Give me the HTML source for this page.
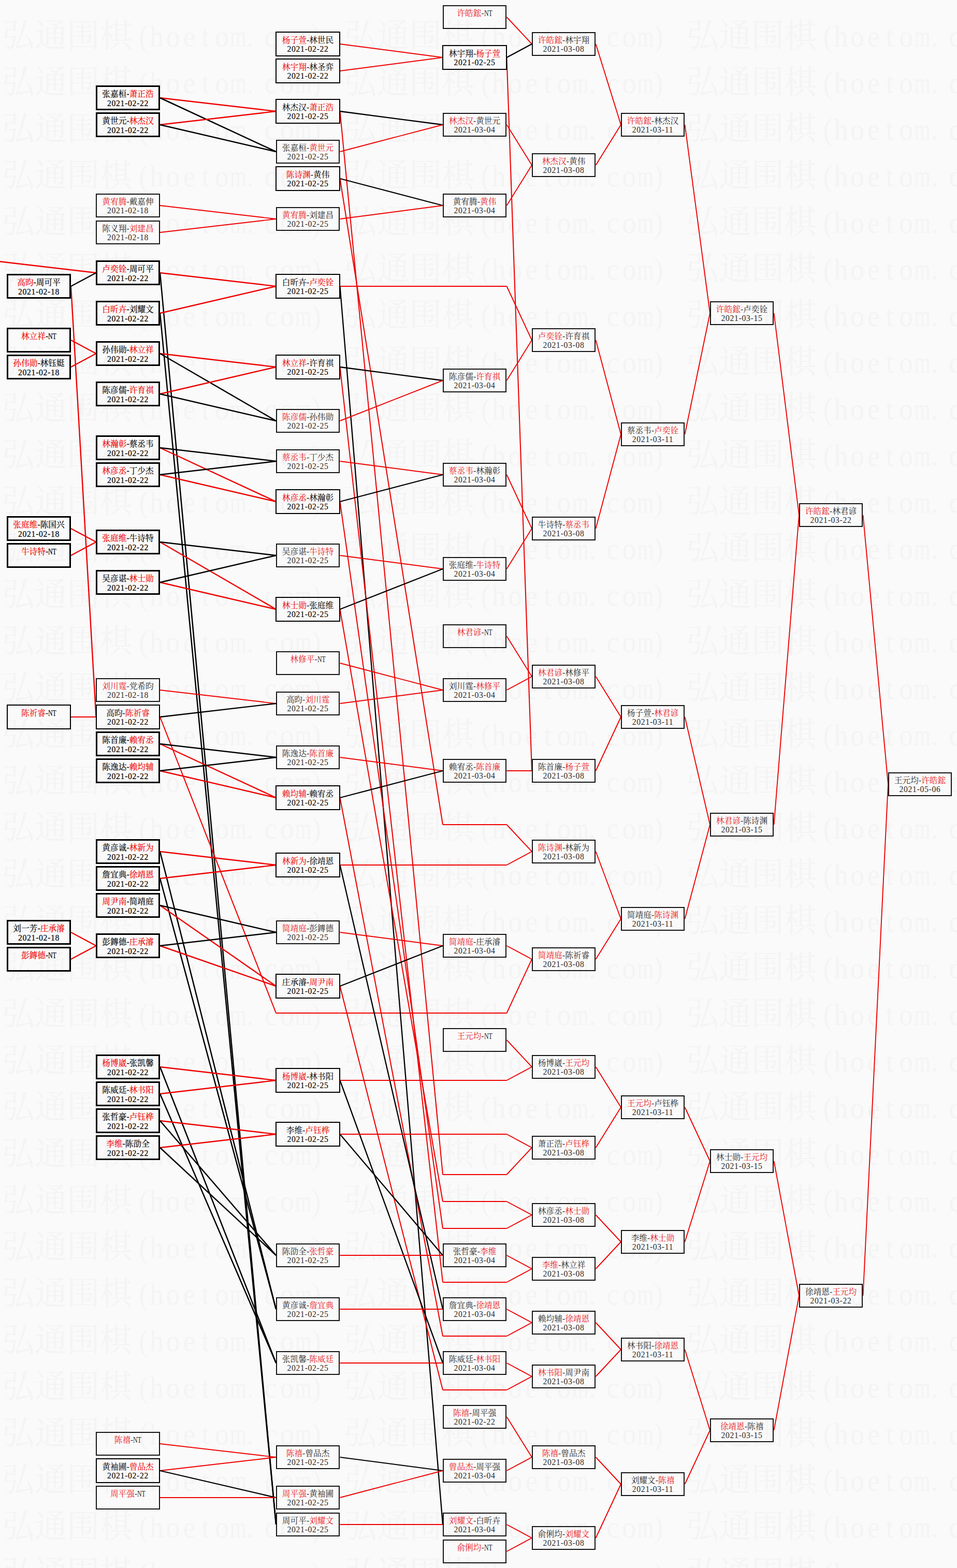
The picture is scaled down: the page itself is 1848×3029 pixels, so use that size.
<!DOCTYPE html>
<html lang="zh-CN"><head><meta charset="utf-8"><title>bracket</title>
<style>
html,body{margin:0;padding:0;overflow:hidden}
body{width:1848px;height:3029px;background:#fafafa;position:relative;overflow:hidden;font-family:"Liberation Serif","Noto Serif CJK SC",serif}
#cv{position:absolute;left:0;top:0}
.b{position:absolute;box-sizing:border-box;text-align:center;font-size:15.7px;line-height:18px;white-space:nowrap;color:#2b2b2b;border:2px solid #151515}
.b p{margin:0;position:absolute;left:0;right:0}
.b .n{top:5.7px}
.b .d{top:22.8px;letter-spacing:.68px}
.b b{font-weight:normal;color:#e8181c}
.b i{font-style:normal;display:inline-block;transform:scaleX(.76);transform-origin:0 50%;margin-right:-5px}
.c2{border:2.6px solid #000;color:#000;-webkit-text-stroke:.1px #000}
.c3{border:3.1px solid #000;color:#000;-webkit-text-stroke:.2px #000}
.c2 .n,.c3 .n{top:5.2px}
.c2 .d,.c3 .d{top:22.8px}
.c2 b{color:#f00000;-webkit-text-stroke:.1px #f00000}
.c3 b{color:#f00000;-webkit-text-stroke:.2px #f00000}
</style></head><body>

<svg id="cv" width="1848" height="3029" viewBox="0 0 1848 3029">
<defs>
<g id="wmp">
<text font-family="'Liberation Serif', 'Noto Serif CJK SC', serif" font-size="62.9" x="0 62.9 125.8 188.7" y="0">弘通围棋</text>
<text font-family="Liberation Serif, serif" font-size="60" text-anchor="middle" transform="translate(273.325,0) scale(0.9,1)">(</text>
<text font-family="Liberation Serif, serif" font-size="60" text-anchor="middle" transform="translate(298.775,0) scale(0.9,1)">h</text>
<text font-family="Liberation Serif, serif" font-size="60" text-anchor="middle" transform="translate(330.225,0) scale(0.9,1)">o</text>
<text font-family="Liberation Serif, serif" font-size="60" text-anchor="middle" transform="translate(361.675,0) scale(0.9,1)">e</text>
<text font-family="Liberation Serif, serif" font-size="60" text-anchor="middle" transform="translate(393.125,0) scale(0.9,1)">t</text>
<text font-family="Liberation Serif, serif" font-size="60" text-anchor="middle" transform="translate(424.575,0) scale(0.9,1)">o</text>
<text font-family="Liberation Serif, serif" font-size="60" text-anchor="middle" transform="translate(456.025,0) scale(0.68,1)">m</text>
<text font-family="Liberation Serif, serif" font-size="60" text-anchor="middle" transform="translate(479.475,0) scale(0.9,1)">.</text>
<text font-family="Liberation Serif, serif" font-size="60" text-anchor="middle" transform="translate(518.925,0) scale(0.9,1)">c</text>
<text font-family="Liberation Serif, serif" font-size="60" text-anchor="middle" transform="translate(550.375,0) scale(0.9,1)">o</text>
<text font-family="Liberation Serif, serif" font-size="60" text-anchor="middle" transform="translate(581.825,0) scale(0.68,1)">m</text>
<text font-family="Liberation Serif, serif" font-size="60" text-anchor="middle" transform="translate(607.275,0) scale(0.9,1)">)</text>
</g>
<g id="wmrow"><use href="#wmp" x="3.8"/><use href="#wmp" x="664.5"/><use href="#wmp" x="1325.2"/></g>
</defs>
<g fill="#f4f4f4">
<use href="#wmrow" y="89.7"/>
<use href="#wmrow" y="179.7"/>
<use href="#wmrow" y="269.7"/>
<use href="#wmrow" y="359.7"/>
<use href="#wmrow" y="449.7"/>
<use href="#wmrow" y="539.7"/>
<use href="#wmrow" y="629.7"/>
<use href="#wmrow" y="719.7"/>
<use href="#wmrow" y="809.7"/>
<use href="#wmrow" y="899.7"/>
<use href="#wmrow" y="989.7"/>
<use href="#wmrow" y="1079.7"/>
<use href="#wmrow" y="1169.7"/>
<use href="#wmrow" y="1259.7"/>
<use href="#wmrow" y="1349.7"/>
<use href="#wmrow" y="1439.7"/>
<use href="#wmrow" y="1529.7"/>
<use href="#wmrow" y="1619.7"/>
<use href="#wmrow" y="1709.7"/>
<use href="#wmrow" y="1799.7"/>
<use href="#wmrow" y="1889.7"/>
<use href="#wmrow" y="1979.7"/>
<use href="#wmrow" y="2069.7"/>
<use href="#wmrow" y="2159.7"/>
<use href="#wmrow" y="2249.7"/>
<use href="#wmrow" y="2339.7"/>
<use href="#wmrow" y="2429.7"/>
<use href="#wmrow" y="2519.7"/>
<use href="#wmrow" y="2609.7"/>
<use href="#wmrow" y="2699.7"/>
<use href="#wmrow" y="2789.7"/>
<use href="#wmrow" y="2879.7"/>
<use href="#wmrow" y="2969.7"/>
<use href="#wmrow" y="3059.7"/>
</g>
<g fill="none">
<line x1="-12" y1="503.9" x2="185.5" y2="527" stroke="#f00000" stroke-width="2.5"/>
<line x1="137" y1="553" x2="185.5" y2="527" stroke="#000" stroke-width="2.5"/>
<line x1="137" y1="553" x2="185.5" y2="1385" stroke="#f00000" stroke-width="2.4"/>
<line x1="137" y1="657" x2="185.5" y2="683" stroke="#f00000" stroke-width="2.4"/>
<line x1="137" y1="709" x2="185.5" y2="683" stroke="#f00000" stroke-width="2.4"/>
<line x1="137" y1="1021" x2="185.5" y2="1047" stroke="#f00000" stroke-width="2.4"/>
<line x1="137" y1="1073" x2="185.5" y2="1047" stroke="#f00000" stroke-width="2.4"/>
<line x1="137" y1="1385" x2="185.5" y2="1385" stroke="#f00000" stroke-width="2.05"/>
<line x1="137" y1="1801" x2="185.5" y2="1827" stroke="#f00000" stroke-width="2.4"/>
<line x1="137" y1="1853" x2="185.5" y2="1827" stroke="#f00000" stroke-width="2.4"/>
<line x1="309" y1="189" x2="533" y2="215" stroke="#f00000" stroke-width="2.4"/>
<line x1="309" y1="189" x2="533" y2="293" stroke="#000" stroke-width="2.5"/>
<line x1="309" y1="241" x2="533" y2="215" stroke="#f00000" stroke-width="2.4"/>
<line x1="309" y1="241" x2="533" y2="293" stroke="#000" stroke-width="2.5"/>
<line x1="309" y1="397" x2="533" y2="423" stroke="#f00000" stroke-width="1.9"/>
<line x1="309" y1="449" x2="533" y2="423" stroke="#f00000" stroke-width="1.9"/>
<line x1="309" y1="527" x2="533" y2="553" stroke="#f00000" stroke-width="2.4"/>
<line x1="309" y1="527" x2="533" y2="2945" stroke="#000" stroke-width="2.5"/>
<line x1="309" y1="605" x2="533" y2="553" stroke="#f00000" stroke-width="2.4"/>
<line x1="309" y1="605" x2="533" y2="2945" stroke="#000" stroke-width="2.5"/>
<line x1="309" y1="683" x2="533" y2="709" stroke="#f00000" stroke-width="2.4"/>
<line x1="309" y1="683" x2="533" y2="813" stroke="#000" stroke-width="2.5"/>
<line x1="309" y1="761" x2="533" y2="709" stroke="#f00000" stroke-width="2.4"/>
<line x1="309" y1="761" x2="533" y2="813" stroke="#000" stroke-width="2.5"/>
<line x1="309" y1="865" x2="533" y2="969" stroke="#f00000" stroke-width="2.4"/>
<line x1="309" y1="865" x2="533" y2="891" stroke="#000" stroke-width="2.5"/>
<line x1="309" y1="917" x2="533" y2="969" stroke="#f00000" stroke-width="2.4"/>
<line x1="309" y1="917" x2="533" y2="891" stroke="#000" stroke-width="2.5"/>
<line x1="309" y1="1047" x2="533" y2="1177" stroke="#f00000" stroke-width="2.4"/>
<line x1="309" y1="1047" x2="533" y2="1073" stroke="#000" stroke-width="2.5"/>
<line x1="309" y1="1125" x2="533" y2="1177" stroke="#f00000" stroke-width="2.4"/>
<line x1="309" y1="1125" x2="533" y2="1073" stroke="#000" stroke-width="2.5"/>
<line x1="309" y1="1333" x2="533" y2="1359" stroke="#f00000" stroke-width="1.9"/>
<line x1="309" y1="1385" x2="533" y2="1359" stroke="#000" stroke-width="2.3"/>
<line x1="309" y1="1385" x2="533" y2="1957" stroke="#f00000" stroke-width="2.05"/>
<line x1="533" y1="1957" x2="656.5" y2="1957" stroke="#f00000" stroke-width="1.9"/>
<line x1="656.5" y1="1957" x2="855" y2="1957" stroke="#f00000" stroke-width="1.9"/>
<line x1="855" y1="1957" x2="978.5" y2="1957" stroke="#f00000" stroke-width="1.9"/>
<line x1="978.5" y1="1957" x2="1027" y2="1853" stroke="#f00000" stroke-width="1.9"/>
<line x1="309" y1="1437" x2="533" y2="1541" stroke="#f00000" stroke-width="2.4"/>
<line x1="309" y1="1437" x2="533" y2="1463" stroke="#000" stroke-width="2.5"/>
<line x1="309" y1="1489" x2="533" y2="1541" stroke="#f00000" stroke-width="2.4"/>
<line x1="309" y1="1489" x2="533" y2="1463" stroke="#000" stroke-width="2.5"/>
<line x1="309" y1="1645" x2="533" y2="1671" stroke="#f00000" stroke-width="2.4"/>
<line x1="309" y1="1645" x2="533" y2="2529" stroke="#000" stroke-width="2.5"/>
<line x1="309" y1="1697" x2="533" y2="1671" stroke="#f00000" stroke-width="2.4"/>
<line x1="309" y1="1697" x2="533" y2="2529" stroke="#000" stroke-width="2.5"/>
<line x1="309" y1="1749" x2="533" y2="1905" stroke="#f00000" stroke-width="2.4"/>
<line x1="309" y1="1749" x2="533" y2="1801" stroke="#000" stroke-width="2.5"/>
<line x1="309" y1="1827" x2="533" y2="1905" stroke="#f00000" stroke-width="2.4"/>
<line x1="309" y1="1827" x2="533" y2="1801" stroke="#000" stroke-width="2.5"/>
<line x1="309" y1="2061" x2="533" y2="2087" stroke="#f00000" stroke-width="2.4"/>
<line x1="309" y1="2061" x2="533" y2="2633" stroke="#000" stroke-width="2.5"/>
<line x1="309" y1="2113" x2="533" y2="2087" stroke="#f00000" stroke-width="2.4"/>
<line x1="309" y1="2113" x2="533" y2="2633" stroke="#000" stroke-width="2.5"/>
<line x1="309" y1="2165" x2="533" y2="2191" stroke="#f00000" stroke-width="2.4"/>
<line x1="309" y1="2165" x2="533" y2="2425" stroke="#000" stroke-width="2.5"/>
<line x1="309" y1="2217" x2="533" y2="2191" stroke="#f00000" stroke-width="2.4"/>
<line x1="309" y1="2217" x2="533" y2="2425" stroke="#000" stroke-width="2.5"/>
<line x1="309" y1="2789" x2="533" y2="2815" stroke="#f00000" stroke-width="1.9"/>
<line x1="309" y1="2841" x2="533" y2="2815" stroke="#f00000" stroke-width="2.05"/>
<line x1="309" y1="2841" x2="533" y2="2893" stroke="#000" stroke-width="2.3"/>
<line x1="309" y1="2893" x2="533" y2="2893" stroke="#f00000" stroke-width="1.9"/>
<line x1="656.5" y1="85" x2="855" y2="111" stroke="#f00000" stroke-width="2.05"/>
<line x1="656.5" y1="137" x2="855" y2="111" stroke="#f00000" stroke-width="2.05"/>
<line x1="656.5" y1="215" x2="855" y2="241" stroke="#000" stroke-width="2.3"/>
<line x1="656.5" y1="215" x2="855" y2="2269" stroke="#f00000" stroke-width="2.05"/>
<line x1="855" y1="2269" x2="978.5" y2="2269" stroke="#f00000" stroke-width="1.9"/>
<line x1="978.5" y1="2269" x2="1027" y2="2217" stroke="#f00000" stroke-width="1.9"/>
<line x1="656.5" y1="293" x2="855" y2="241" stroke="#f00000" stroke-width="1.9"/>
<line x1="656.5" y1="345" x2="855" y2="397" stroke="#000" stroke-width="2.3"/>
<line x1="656.5" y1="345" x2="855" y2="1593" stroke="#f00000" stroke-width="2.05"/>
<line x1="855" y1="1593" x2="978.5" y2="1593" stroke="#f00000" stroke-width="1.9"/>
<line x1="978.5" y1="1593" x2="1027" y2="1645" stroke="#f00000" stroke-width="1.9"/>
<line x1="656.5" y1="423" x2="855" y2="397" stroke="#f00000" stroke-width="1.9"/>
<line x1="656.5" y1="553" x2="855" y2="2945" stroke="#000" stroke-width="2.3"/>
<line x1="656.5" y1="553" x2="855" y2="553" stroke="#f00000" stroke-width="2.05"/>
<line x1="855" y1="553" x2="978.5" y2="553" stroke="#f00000" stroke-width="1.9"/>
<line x1="978.5" y1="553" x2="1027" y2="657" stroke="#f00000" stroke-width="1.9"/>
<line x1="656.5" y1="709" x2="855" y2="735" stroke="#000" stroke-width="2.3"/>
<line x1="656.5" y1="709" x2="855" y2="2477" stroke="#f00000" stroke-width="2.05"/>
<line x1="855" y1="2477" x2="978.5" y2="2477" stroke="#f00000" stroke-width="1.9"/>
<line x1="978.5" y1="2477" x2="1027" y2="2451" stroke="#f00000" stroke-width="1.9"/>
<line x1="656.5" y1="813" x2="855" y2="735" stroke="#f00000" stroke-width="1.9"/>
<line x1="656.5" y1="891" x2="855" y2="917" stroke="#f00000" stroke-width="1.9"/>
<line x1="656.5" y1="969" x2="855" y2="917" stroke="#000" stroke-width="2.3"/>
<line x1="656.5" y1="969" x2="855" y2="2373" stroke="#f00000" stroke-width="2.05"/>
<line x1="855" y1="2373" x2="978.5" y2="2373" stroke="#f00000" stroke-width="1.9"/>
<line x1="978.5" y1="2373" x2="1027" y2="2347" stroke="#f00000" stroke-width="1.9"/>
<line x1="656.5" y1="1073" x2="855" y2="1099" stroke="#f00000" stroke-width="1.9"/>
<line x1="656.5" y1="1177" x2="855" y2="1099" stroke="#000" stroke-width="2.3"/>
<line x1="656.5" y1="1177" x2="855" y2="2321" stroke="#f00000" stroke-width="2.05"/>
<line x1="855" y1="2321" x2="978.5" y2="2321" stroke="#f00000" stroke-width="1.9"/>
<line x1="978.5" y1="2321" x2="1027" y2="2347" stroke="#f00000" stroke-width="1.9"/>
<line x1="656.5" y1="1281" x2="855" y2="1333" stroke="#f00000" stroke-width="1.9"/>
<line x1="656.5" y1="1359" x2="855" y2="1333" stroke="#f00000" stroke-width="1.9"/>
<line x1="656.5" y1="1463" x2="855" y2="1489" stroke="#f00000" stroke-width="1.9"/>
<line x1="656.5" y1="1541" x2="855" y2="1489" stroke="#000" stroke-width="2.3"/>
<line x1="656.5" y1="1541" x2="855" y2="2581" stroke="#f00000" stroke-width="2.05"/>
<line x1="855" y1="2581" x2="978.5" y2="2581" stroke="#f00000" stroke-width="1.9"/>
<line x1="978.5" y1="2581" x2="1027" y2="2555" stroke="#f00000" stroke-width="1.9"/>
<line x1="656.5" y1="1671" x2="855" y2="2529" stroke="#000" stroke-width="2.3"/>
<line x1="656.5" y1="1671" x2="855" y2="1671" stroke="#f00000" stroke-width="2.05"/>
<line x1="855" y1="1671" x2="978.5" y2="1671" stroke="#f00000" stroke-width="1.9"/>
<line x1="978.5" y1="1671" x2="1027" y2="1645" stroke="#f00000" stroke-width="1.9"/>
<line x1="656.5" y1="1801" x2="855" y2="1827" stroke="#f00000" stroke-width="1.9"/>
<line x1="656.5" y1="1905" x2="855" y2="1827" stroke="#000" stroke-width="2.3"/>
<line x1="656.5" y1="1905" x2="855" y2="2685" stroke="#f00000" stroke-width="2.05"/>
<line x1="855" y1="2685" x2="978.5" y2="2685" stroke="#f00000" stroke-width="1.9"/>
<line x1="978.5" y1="2685" x2="1027" y2="2659" stroke="#f00000" stroke-width="1.9"/>
<line x1="656.5" y1="2087" x2="855" y2="2633" stroke="#000" stroke-width="2.3"/>
<line x1="656.5" y1="2087" x2="855" y2="2087" stroke="#f00000" stroke-width="2.05"/>
<line x1="855" y1="2087" x2="978.5" y2="2087" stroke="#f00000" stroke-width="1.9"/>
<line x1="978.5" y1="2087" x2="1027" y2="2061" stroke="#f00000" stroke-width="1.9"/>
<line x1="656.5" y1="2191" x2="855" y2="2425" stroke="#000" stroke-width="2.3"/>
<line x1="656.5" y1="2191" x2="855" y2="2191" stroke="#f00000" stroke-width="2.05"/>
<line x1="855" y1="2191" x2="978.5" y2="2191" stroke="#f00000" stroke-width="1.9"/>
<line x1="978.5" y1="2191" x2="1027" y2="2217" stroke="#f00000" stroke-width="1.9"/>
<line x1="656.5" y1="2425" x2="855" y2="2425" stroke="#f00000" stroke-width="1.9"/>
<line x1="656.5" y1="2529" x2="855" y2="2529" stroke="#f00000" stroke-width="1.9"/>
<line x1="656.5" y1="2633" x2="855" y2="2633" stroke="#f00000" stroke-width="1.9"/>
<line x1="656.5" y1="2815" x2="855" y2="2841" stroke="#000" stroke-width="1.9"/>
<line x1="656.5" y1="2893" x2="855" y2="2841" stroke="#f00000" stroke-width="1.9"/>
<line x1="656.5" y1="2945" x2="855" y2="2945" stroke="#f00000" stroke-width="1.9"/>
<line x1="978.5" y1="33" x2="1027" y2="85" stroke="#f00000" stroke-width="1.9"/>
<line x1="978.5" y1="111" x2="1027" y2="85" stroke="#000" stroke-width="2.3"/>
<line x1="978.5" y1="111" x2="1027" y2="1489" stroke="#f00000" stroke-width="2.05"/>
<line x1="978.5" y1="241" x2="1027" y2="319" stroke="#f00000" stroke-width="1.9"/>
<line x1="978.5" y1="397" x2="1027" y2="319" stroke="#f00000" stroke-width="1.9"/>
<line x1="978.5" y1="735" x2="1027" y2="657" stroke="#f00000" stroke-width="1.9"/>
<line x1="978.5" y1="917" x2="1027" y2="1021" stroke="#f00000" stroke-width="1.9"/>
<line x1="978.5" y1="1099" x2="1027" y2="1021" stroke="#f00000" stroke-width="1.9"/>
<line x1="978.5" y1="1229" x2="1027" y2="1307" stroke="#f00000" stroke-width="1.9"/>
<line x1="978.5" y1="1333" x2="1027" y2="1307" stroke="#f00000" stroke-width="1.9"/>
<line x1="978.5" y1="1489" x2="1027" y2="1489" stroke="#f00000" stroke-width="1.9"/>
<line x1="978.5" y1="1827" x2="1027" y2="1853" stroke="#f00000" stroke-width="1.9"/>
<line x1="978.5" y1="2009" x2="1027" y2="2061" stroke="#f00000" stroke-width="1.9"/>
<line x1="978.5" y1="2425" x2="1027" y2="2451" stroke="#f00000" stroke-width="1.9"/>
<line x1="978.5" y1="2529" x2="1027" y2="2555" stroke="#f00000" stroke-width="1.9"/>
<line x1="978.5" y1="2633" x2="1027" y2="2659" stroke="#f00000" stroke-width="1.9"/>
<line x1="978.5" y1="2737" x2="1027" y2="2815" stroke="#f00000" stroke-width="1.9"/>
<line x1="978.5" y1="2841" x2="1027" y2="2815" stroke="#f00000" stroke-width="1.9"/>
<line x1="978.5" y1="2945" x2="1027" y2="2971" stroke="#f00000" stroke-width="1.9"/>
<line x1="978.5" y1="2997" x2="1027" y2="2971" stroke="#f00000" stroke-width="1.9"/>
<line x1="1150.5" y1="85" x2="1199" y2="241" stroke="#f00000" stroke-width="1.9"/>
<line x1="1150.5" y1="319" x2="1199" y2="241" stroke="#f00000" stroke-width="1.9"/>
<line x1="1150.5" y1="657" x2="1199" y2="839" stroke="#f00000" stroke-width="1.9"/>
<line x1="1150.5" y1="1021" x2="1199" y2="839" stroke="#f00000" stroke-width="1.9"/>
<line x1="1150.5" y1="1307" x2="1199" y2="1385" stroke="#f00000" stroke-width="1.9"/>
<line x1="1150.5" y1="1489" x2="1199" y2="1385" stroke="#f00000" stroke-width="1.9"/>
<line x1="1150.5" y1="1645" x2="1199" y2="1775" stroke="#f00000" stroke-width="1.9"/>
<line x1="1150.5" y1="1853" x2="1199" y2="1775" stroke="#f00000" stroke-width="1.9"/>
<line x1="1150.5" y1="2061" x2="1199" y2="2139" stroke="#f00000" stroke-width="1.9"/>
<line x1="1150.5" y1="2217" x2="1199" y2="2139" stroke="#f00000" stroke-width="1.9"/>
<line x1="1150.5" y1="2347" x2="1199" y2="2399" stroke="#f00000" stroke-width="1.9"/>
<line x1="1150.5" y1="2451" x2="1199" y2="2399" stroke="#f00000" stroke-width="1.9"/>
<line x1="1150.5" y1="2555" x2="1199" y2="2607" stroke="#f00000" stroke-width="1.9"/>
<line x1="1150.5" y1="2659" x2="1199" y2="2607" stroke="#f00000" stroke-width="1.9"/>
<line x1="1150.5" y1="2815" x2="1199" y2="2867" stroke="#f00000" stroke-width="1.9"/>
<line x1="1150.5" y1="2971" x2="1199" y2="2867" stroke="#f00000" stroke-width="1.9"/>
<line x1="1322.5" y1="241" x2="1371" y2="605" stroke="#f00000" stroke-width="1.9"/>
<line x1="1322.5" y1="839" x2="1371" y2="605" stroke="#f00000" stroke-width="1.9"/>
<line x1="1322.5" y1="1385" x2="1371" y2="1593" stroke="#f00000" stroke-width="1.9"/>
<line x1="1322.5" y1="1775" x2="1371" y2="1593" stroke="#f00000" stroke-width="1.9"/>
<line x1="1322.5" y1="2139" x2="1371" y2="2243" stroke="#f00000" stroke-width="1.9"/>
<line x1="1322.5" y1="2399" x2="1371" y2="2243" stroke="#f00000" stroke-width="1.9"/>
<line x1="1322.5" y1="2607" x2="1371" y2="2763" stroke="#f00000" stroke-width="1.9"/>
<line x1="1322.5" y1="2867" x2="1371" y2="2763" stroke="#f00000" stroke-width="1.9"/>
<line x1="1494.5" y1="605" x2="1543" y2="995" stroke="#f00000" stroke-width="1.9"/>
<line x1="1494.5" y1="1593" x2="1543" y2="995" stroke="#f00000" stroke-width="1.9"/>
<line x1="1494.5" y1="2243" x2="1543" y2="2503" stroke="#f00000" stroke-width="1.9"/>
<line x1="1494.5" y1="2763" x2="1543" y2="2503" stroke="#f00000" stroke-width="1.9"/>
<line x1="1666.5" y1="995" x2="1715" y2="1515" stroke="#f00000" stroke-width="1.9"/>
<line x1="1666.5" y1="2503" x2="1715" y2="1515" stroke="#f00000" stroke-width="1.9"/>
</g></svg>
<div class="b c3" style="left:12.65px;top:529.15px;width:124.8px;height:47.7px"><p class="n"><b>高昀</b>-周可平</p><p class="d">2021-02-18</p></div>
<div class="b c3" style="left:12.65px;top:633.15px;width:124.8px;height:47.7px"><p class="n"><b>林立祥</b>-<i>NT</i></p><p class="d"></p></div>
<div class="b c3" style="left:12.65px;top:685.15px;width:124.8px;height:47.7px"><p class="n"><b>孙伟勋</b>-林钰娗</p><p class="d">2021-02-18</p></div>
<div class="b c3" style="left:12.65px;top:997.15px;width:124.8px;height:47.7px"><p class="n"><b>张庭维</b>-陈国兴</p><p class="d">2021-02-18</p></div>
<div class="b c3" style="left:12.65px;top:1049.15px;width:124.8px;height:47.7px"><p class="n"><b>牛诗特</b>-<i>NT</i></p><p class="d"></p></div>
<div class="b c2" style="left:12.9px;top:1361.4px;width:124.3px;height:47.2px"><p class="n"><b>陈祈睿</b>-<i>NT</i></p><p class="d"></p></div>
<div class="b c3" style="left:12.65px;top:1777.15px;width:124.8px;height:47.7px"><p class="n">刘一芳-<b>庄承濬</b></p><p class="d">2021-02-18</p></div>
<div class="b c3" style="left:12.65px;top:1829.15px;width:124.8px;height:47.7px"><p class="n"><b>彭鏄德</b>-<i>NT</i></p><p class="d"></p></div>
<div class="b c3" style="left:184.65px;top:165.15px;width:124.8px;height:47.7px"><p class="n">张嘉桓-<b>萧正浩</b></p><p class="d">2021-02-22</p></div>
<div class="b c3" style="left:184.65px;top:217.15px;width:124.8px;height:47.7px"><p class="n">黄世元-<b>林杰汉</b></p><p class="d">2021-02-22</p></div>
<div class="b" style="left:185.2px;top:373.7px;width:123.7px;height:46.6px"><p class="n"><b>黄宥腾</b>-戴嘉伸</p><p class="d">2021-02-18</p></div>
<div class="b" style="left:185.2px;top:425.7px;width:123.7px;height:46.6px"><p class="n">陈义翔-<b>刘建昌</b></p><p class="d">2021-02-18</p></div>
<div class="b c3" style="left:184.65px;top:503.15px;width:124.8px;height:47.7px"><p class="n"><b>卢奕铨</b>-周可平</p><p class="d">2021-02-22</p></div>
<div class="b c3" style="left:184.65px;top:581.15px;width:124.8px;height:47.7px"><p class="n"><b>白昕卉</b>-刘耀文</p><p class="d">2021-02-22</p></div>
<div class="b c3" style="left:184.65px;top:659.15px;width:124.8px;height:47.7px"><p class="n">孙伟勋-<b>林立祥</b></p><p class="d">2021-02-22</p></div>
<div class="b c3" style="left:184.65px;top:737.15px;width:124.8px;height:47.7px"><p class="n">陈彦儒-<b>许育祺</b></p><p class="d">2021-02-22</p></div>
<div class="b c3" style="left:184.65px;top:841.15px;width:124.8px;height:47.7px"><p class="n"><b>林瀚彰</b>-蔡丞韦</p><p class="d">2021-02-22</p></div>
<div class="b c3" style="left:184.65px;top:893.15px;width:124.8px;height:47.7px"><p class="n"><b>林彦丞</b>-丁少杰</p><p class="d">2021-02-22</p></div>
<div class="b c3" style="left:184.65px;top:1023.15px;width:124.8px;height:47.7px"><p class="n"><b>张庭维</b>-牛诗特</p><p class="d">2021-02-22</p></div>
<div class="b c3" style="left:184.65px;top:1101.15px;width:124.8px;height:47.7px"><p class="n">吴彦谌-<b>林士勋</b></p><p class="d">2021-02-22</p></div>
<div class="b" style="left:185.2px;top:1309.7px;width:123.7px;height:46.6px"><p class="n"><b>刘川霆</b>-党希昀</p><p class="d">2021-02-18</p></div>
<div class="b c2" style="left:184.9px;top:1361.4px;width:124.3px;height:47.2px"><p class="n">高昀-<b>陈祈睿</b></p><p class="d">2021-02-22</p></div>
<div class="b c3" style="left:184.65px;top:1413.15px;width:124.8px;height:47.7px"><p class="n">陈首廉-<b>赖宥丞</b></p><p class="d">2021-02-22</p></div>
<div class="b c3" style="left:184.65px;top:1465.15px;width:124.8px;height:47.7px"><p class="n">陈逸达-<b>赖均辅</b></p><p class="d">2021-02-22</p></div>
<div class="b c3" style="left:184.65px;top:1621.15px;width:124.8px;height:47.7px"><p class="n">黄彦诚-<b>林新为</b></p><p class="d">2021-02-22</p></div>
<div class="b c3" style="left:184.65px;top:1673.15px;width:124.8px;height:47.7px"><p class="n">詹宜典-<b>徐靖恩</b></p><p class="d">2021-02-22</p></div>
<div class="b c3" style="left:184.65px;top:1725.15px;width:124.8px;height:47.7px"><p class="n"><b>周尹南</b>-简靖庭</p><p class="d">2021-02-22</p></div>
<div class="b c3" style="left:184.65px;top:1803.15px;width:124.8px;height:47.7px"><p class="n">彭鏄德-<b>庄承濬</b></p><p class="d">2021-02-22</p></div>
<div class="b c3" style="left:184.65px;top:2037.15px;width:124.8px;height:47.7px"><p class="n"><b>杨博崴</b>-张凯馨</p><p class="d">2021-02-22</p></div>
<div class="b c3" style="left:184.65px;top:2089.15px;width:124.8px;height:47.7px"><p class="n">陈威廷-<b>林书阳</b></p><p class="d">2021-02-22</p></div>
<div class="b c3" style="left:184.65px;top:2141.15px;width:124.8px;height:47.7px"><p class="n">张哲豪-<b>卢钰桦</b></p><p class="d">2021-02-22</p></div>
<div class="b c3" style="left:184.65px;top:2193.15px;width:124.8px;height:47.7px"><p class="n"><b>李维</b>-陈劭全</p><p class="d">2021-02-22</p></div>
<div class="b" style="left:185.2px;top:2765.7px;width:123.7px;height:46.6px"><p class="n"><b>陈禧</b>-<i>NT</i></p><p class="d"></p></div>
<div class="b c2" style="left:184.9px;top:2817.4px;width:124.3px;height:47.2px"><p class="n">黄袖圃-<b>曾品杰</b></p><p class="d">2021-02-22</p></div>
<div class="b" style="left:185.2px;top:2869.7px;width:123.7px;height:46.6px"><p class="n"><b>周平强</b>-<i>NT</i></p><p class="d"></p></div>
<div class="b c2" style="left:532.4px;top:61.4px;width:124.3px;height:47.2px"><p class="n"><b>杨子萱</b>-林世民</p><p class="d">2021-02-22</p></div>
<div class="b c2" style="left:532.4px;top:113.4px;width:124.3px;height:47.2px"><p class="n"><b>林宇翔</b>-林圣弈</p><p class="d">2021-02-22</p></div>
<div class="b c2" style="left:532.4px;top:191.4px;width:124.3px;height:47.2px"><p class="n">林杰汉-<b>萧正浩</b></p><p class="d">2021-02-25</p></div>
<div class="b" style="left:532.7px;top:269.7px;width:123.7px;height:46.6px"><p class="n">张嘉桓-<b>黄世元</b></p><p class="d">2021-02-25</p></div>
<div class="b c2" style="left:532.4px;top:321.4px;width:124.3px;height:47.2px"><p class="n"><b>陈诗渊</b>-黄伟</p><p class="d">2021-02-25</p></div>
<div class="b" style="left:532.7px;top:399.7px;width:123.7px;height:46.6px"><p class="n"><b>黄宥腾</b>-刘建昌</p><p class="d">2021-02-25</p></div>
<div class="b c2" style="left:532.4px;top:529.4px;width:124.3px;height:47.2px"><p class="n">白昕卉-<b>卢奕铨</b></p><p class="d">2021-02-25</p></div>
<div class="b c2" style="left:532.4px;top:685.4px;width:124.3px;height:47.2px"><p class="n"><b>林立祥</b>-许育祺</p><p class="d">2021-02-25</p></div>
<div class="b" style="left:532.7px;top:789.7px;width:123.7px;height:46.6px"><p class="n"><b>陈彦儒</b>-孙伟勋</p><p class="d">2021-02-25</p></div>
<div class="b" style="left:532.7px;top:867.7px;width:123.7px;height:46.6px"><p class="n"><b>蔡丞韦</b>-丁少杰</p><p class="d">2021-02-25</p></div>
<div class="b c2" style="left:532.4px;top:945.4px;width:124.3px;height:47.2px"><p class="n"><b>林彦丞</b>-林瀚彰</p><p class="d">2021-02-25</p></div>
<div class="b" style="left:532.7px;top:1049.7px;width:123.7px;height:46.6px"><p class="n">吴彦谌-<b>牛诗特</b></p><p class="d">2021-02-25</p></div>
<div class="b c2" style="left:532.4px;top:1153.4px;width:124.3px;height:47.2px"><p class="n"><b>林士勋</b>-张庭维</p><p class="d">2021-02-25</p></div>
<div class="b" style="left:532.7px;top:1257.7px;width:123.7px;height:46.6px"><p class="n"><b>林修平</b>-<i>NT</i></p><p class="d"></p></div>
<div class="b" style="left:532.7px;top:1335.7px;width:123.7px;height:46.6px"><p class="n">高昀-<b>刘川霆</b></p><p class="d">2021-02-25</p></div>
<div class="b" style="left:532.7px;top:1439.7px;width:123.7px;height:46.6px"><p class="n">陈逸达-<b>陈首廉</b></p><p class="d">2021-02-25</p></div>
<div class="b c2" style="left:532.4px;top:1517.4px;width:124.3px;height:47.2px"><p class="n"><b>赖均辅</b>-赖宥丞</p><p class="d">2021-02-25</p></div>
<div class="b c2" style="left:532.4px;top:1647.4px;width:124.3px;height:47.2px"><p class="n"><b>林新为</b>-徐靖恩</p><p class="d">2021-02-25</p></div>
<div class="b" style="left:532.7px;top:1777.7px;width:123.7px;height:46.6px"><p class="n"><b>简靖庭</b>-彭鏄德</p><p class="d">2021-02-25</p></div>
<div class="b c2" style="left:532.4px;top:1881.4px;width:124.3px;height:47.2px"><p class="n">庄承濬-<b>周尹南</b></p><p class="d">2021-02-25</p></div>
<div class="b c2" style="left:532.4px;top:2063.4px;width:124.3px;height:47.2px"><p class="n"><b>杨博崴</b>-林书阳</p><p class="d">2021-02-25</p></div>
<div class="b c2" style="left:532.4px;top:2167.4px;width:124.3px;height:47.2px"><p class="n">李维-<b>卢钰桦</b></p><p class="d">2021-02-25</p></div>
<div class="b" style="left:532.7px;top:2401.7px;width:123.7px;height:46.6px"><p class="n">陈劭全-<b>张哲豪</b></p><p class="d">2021-02-25</p></div>
<div class="b" style="left:532.7px;top:2505.7px;width:123.7px;height:46.6px"><p class="n">黄彦诚-<b>詹宜典</b></p><p class="d">2021-02-25</p></div>
<div class="b" style="left:532.7px;top:2609.7px;width:123.7px;height:46.6px"><p class="n">张凯馨-<b>陈威廷</b></p><p class="d">2021-02-25</p></div>
<div class="b" style="left:532.7px;top:2791.7px;width:123.7px;height:46.6px"><p class="n"><b>陈禧</b>-曾品杰</p><p class="d">2021-02-25</p></div>
<div class="b" style="left:532.7px;top:2869.7px;width:123.7px;height:46.6px"><p class="n"><b>周平强</b>-黄袖圃</p><p class="d">2021-02-25</p></div>
<div class="b" style="left:532.7px;top:2921.7px;width:123.7px;height:46.6px"><p class="n">周可平-<b>刘耀文</b></p><p class="d">2021-02-25</p></div>
<div class="b" style="left:854.7px;top:9.7px;width:123.7px;height:46.6px"><p class="n"><b>许皓鋐</b>-<i>NT</i></p><p class="d"></p></div>
<div class="b c2" style="left:854.4px;top:87.4px;width:124.3px;height:47.2px"><p class="n">林宇翔-<b>杨子萱</b></p><p class="d">2021-02-25</p></div>
<div class="b" style="left:854.7px;top:217.7px;width:123.7px;height:46.6px"><p class="n"><b>林杰汉</b>-黄世元</p><p class="d">2021-03-04</p></div>
<div class="b" style="left:854.7px;top:373.7px;width:123.7px;height:46.6px"><p class="n">黄宥腾-<b>黄伟</b></p><p class="d">2021-03-04</p></div>
<div class="b" style="left:854.7px;top:711.7px;width:123.7px;height:46.6px"><p class="n">陈彦儒-<b>许育祺</b></p><p class="d">2021-03-04</p></div>
<div class="b" style="left:854.7px;top:893.7px;width:123.7px;height:46.6px"><p class="n"><b>蔡丞韦</b>-林瀚彰</p><p class="d">2021-03-04</p></div>
<div class="b" style="left:854.7px;top:1075.7px;width:123.7px;height:46.6px"><p class="n">张庭维-<b>牛诗特</b></p><p class="d">2021-03-04</p></div>
<div class="b" style="left:854.7px;top:1205.7px;width:123.7px;height:46.6px"><p class="n"><b>林君谚</b>-<i>NT</i></p><p class="d"></p></div>
<div class="b" style="left:854.7px;top:1309.7px;width:123.7px;height:46.6px"><p class="n">刘川霆-<b>林修平</b></p><p class="d">2021-03-04</p></div>
<div class="b" style="left:854.7px;top:1465.7px;width:123.7px;height:46.6px"><p class="n">赖宥丞-<b>陈首廉</b></p><p class="d">2021-03-04</p></div>
<div class="b" style="left:854.7px;top:1803.7px;width:123.7px;height:46.6px"><p class="n"><b>简靖庭</b>-庄承濬</p><p class="d">2021-03-04</p></div>
<div class="b" style="left:854.7px;top:1985.7px;width:123.7px;height:46.6px"><p class="n"><b>王元均</b>-<i>NT</i></p><p class="d"></p></div>
<div class="b" style="left:854.7px;top:2401.7px;width:123.7px;height:46.6px"><p class="n">张哲豪-<b>李维</b></p><p class="d">2021-03-04</p></div>
<div class="b" style="left:854.7px;top:2505.7px;width:123.7px;height:46.6px"><p class="n">詹宜典-<b>徐靖恩</b></p><p class="d">2021-03-04</p></div>
<div class="b" style="left:854.7px;top:2609.7px;width:123.7px;height:46.6px"><p class="n">陈威廷-<b>林书阳</b></p><p class="d">2021-03-04</p></div>
<div class="b" style="left:854.7px;top:2713.7px;width:123.7px;height:46.6px"><p class="n"><b>陈禧</b>-周平强</p><p class="d">2021-02-22</p></div>
<div class="b" style="left:854.7px;top:2817.7px;width:123.7px;height:46.6px"><p class="n"><b>曾品杰</b>-周平强</p><p class="d">2021-03-04</p></div>
<div class="b" style="left:854.7px;top:2921.7px;width:123.7px;height:46.6px"><p class="n"><b>刘耀文</b>-白昕卉</p><p class="d">2021-03-04</p></div>
<div class="b" style="left:854.7px;top:2973.7px;width:123.7px;height:46.6px"><p class="n"><b>俞俐均</b>-<i>NT</i></p><p class="d"></p></div>
<div class="b" style="left:1026.7px;top:61.7px;width:123.7px;height:46.6px"><p class="n"><b>许皓鋐</b>-林宇翔</p><p class="d">2021-03-08</p></div>
<div class="b" style="left:1026.7px;top:295.7px;width:123.7px;height:46.6px"><p class="n"><b>林杰汉</b>-黄伟</p><p class="d">2021-03-08</p></div>
<div class="b" style="left:1026.7px;top:633.7px;width:123.7px;height:46.6px"><p class="n"><b>卢奕铨</b>-许育祺</p><p class="d">2021-03-08</p></div>
<div class="b" style="left:1026.7px;top:997.7px;width:123.7px;height:46.6px"><p class="n">牛诗特-<b>蔡丞韦</b></p><p class="d">2021-03-08</p></div>
<div class="b" style="left:1026.7px;top:1283.7px;width:123.7px;height:46.6px"><p class="n"><b>林君谚</b>-林修平</p><p class="d">2021-03-08</p></div>
<div class="b" style="left:1026.7px;top:1465.7px;width:123.7px;height:46.6px"><p class="n">陈首廉-<b>杨子萱</b></p><p class="d">2021-03-08</p></div>
<div class="b" style="left:1026.7px;top:1621.7px;width:123.7px;height:46.6px"><p class="n"><b>陈诗渊</b>-林新为</p><p class="d">2021-03-08</p></div>
<div class="b" style="left:1026.7px;top:1829.7px;width:123.7px;height:46.6px"><p class="n"><b>简靖庭</b>-陈祈睿</p><p class="d">2021-03-08</p></div>
<div class="b" style="left:1026.7px;top:2037.7px;width:123.7px;height:46.6px"><p class="n">杨博崴-<b>王元均</b></p><p class="d">2021-03-08</p></div>
<div class="b" style="left:1026.7px;top:2193.7px;width:123.7px;height:46.6px"><p class="n">萧正浩-<b>卢钰桦</b></p><p class="d">2021-03-08</p></div>
<div class="b" style="left:1026.7px;top:2323.7px;width:123.7px;height:46.6px"><p class="n">林彦丞-<b>林士勋</b></p><p class="d">2021-03-08</p></div>
<div class="b" style="left:1026.7px;top:2427.7px;width:123.7px;height:46.6px"><p class="n"><b>李维</b>-林立祥</p><p class="d">2021-03-08</p></div>
<div class="b" style="left:1026.7px;top:2531.7px;width:123.7px;height:46.6px"><p class="n">赖均辅-<b>徐靖恩</b></p><p class="d">2021-03-08</p></div>
<div class="b" style="left:1026.7px;top:2635.7px;width:123.7px;height:46.6px"><p class="n"><b>林书阳</b>-周尹南</p><p class="d">2021-03-08</p></div>
<div class="b" style="left:1026.7px;top:2791.7px;width:123.7px;height:46.6px"><p class="n"><b>陈禧</b>-曾品杰</p><p class="d">2021-03-08</p></div>
<div class="b" style="left:1026.7px;top:2947.7px;width:123.7px;height:46.6px"><p class="n">俞俐均-<b>刘耀文</b></p><p class="d">2021-03-08</p></div>
<div class="b" style="left:1198.7px;top:217.7px;width:123.7px;height:46.6px"><p class="n"><b>许皓鋐</b>-林杰汉</p><p class="d">2021-03-11</p></div>
<div class="b" style="left:1198.7px;top:815.7px;width:123.7px;height:46.6px"><p class="n">蔡丞韦-<b>卢奕铨</b></p><p class="d">2021-03-11</p></div>
<div class="b" style="left:1198.7px;top:1361.7px;width:123.7px;height:46.6px"><p class="n">杨子萱-<b>林君谚</b></p><p class="d">2021-03-11</p></div>
<div class="b" style="left:1198.7px;top:1751.7px;width:123.7px;height:46.6px"><p class="n">简靖庭-<b>陈诗渊</b></p><p class="d">2021-03-11</p></div>
<div class="b" style="left:1198.7px;top:2115.7px;width:123.7px;height:46.6px"><p class="n"><b>王元均</b>-卢钰桦</p><p class="d">2021-03-11</p></div>
<div class="b" style="left:1198.7px;top:2375.7px;width:123.7px;height:46.6px"><p class="n">李维-<b>林士勋</b></p><p class="d">2021-03-11</p></div>
<div class="b" style="left:1198.7px;top:2583.7px;width:123.7px;height:46.6px"><p class="n">林书阳-<b>徐靖恩</b></p><p class="d">2021-03-11</p></div>
<div class="b" style="left:1198.7px;top:2843.7px;width:123.7px;height:46.6px"><p class="n">刘耀文-<b>陈禧</b></p><p class="d">2021-03-11</p></div>
<div class="b" style="left:1370.7px;top:581.7px;width:123.7px;height:46.6px"><p class="n"><b>许皓鋐</b>-卢奕铨</p><p class="d">2021-03-15</p></div>
<div class="b" style="left:1370.7px;top:1569.7px;width:123.7px;height:46.6px"><p class="n"><b>林君谚</b>-陈诗渊</p><p class="d">2021-03-15</p></div>
<div class="b" style="left:1370.7px;top:2219.7px;width:123.7px;height:46.6px"><p class="n">林士勋-<b>王元均</b></p><p class="d">2021-03-15</p></div>
<div class="b" style="left:1370.7px;top:2739.7px;width:123.7px;height:46.6px"><p class="n"><b>徐靖恩</b>-陈禧</p><p class="d">2021-03-15</p></div>
<div class="b" style="left:1542.7px;top:971.7px;width:123.7px;height:46.6px"><p class="n"><b>许皓鋐</b>-林君谚</p><p class="d">2021-03-22</p></div>
<div class="b" style="left:1542.7px;top:2479.7px;width:123.7px;height:46.6px"><p class="n">徐靖恩-<b>王元均</b></p><p class="d">2021-03-22</p></div>
<div class="b" style="left:1714.7px;top:1491.7px;width:123.7px;height:46.6px"><p class="n">王元均-<b>许皓鋐</b></p><p class="d">2021-05-06</p></div>
</body></html>
